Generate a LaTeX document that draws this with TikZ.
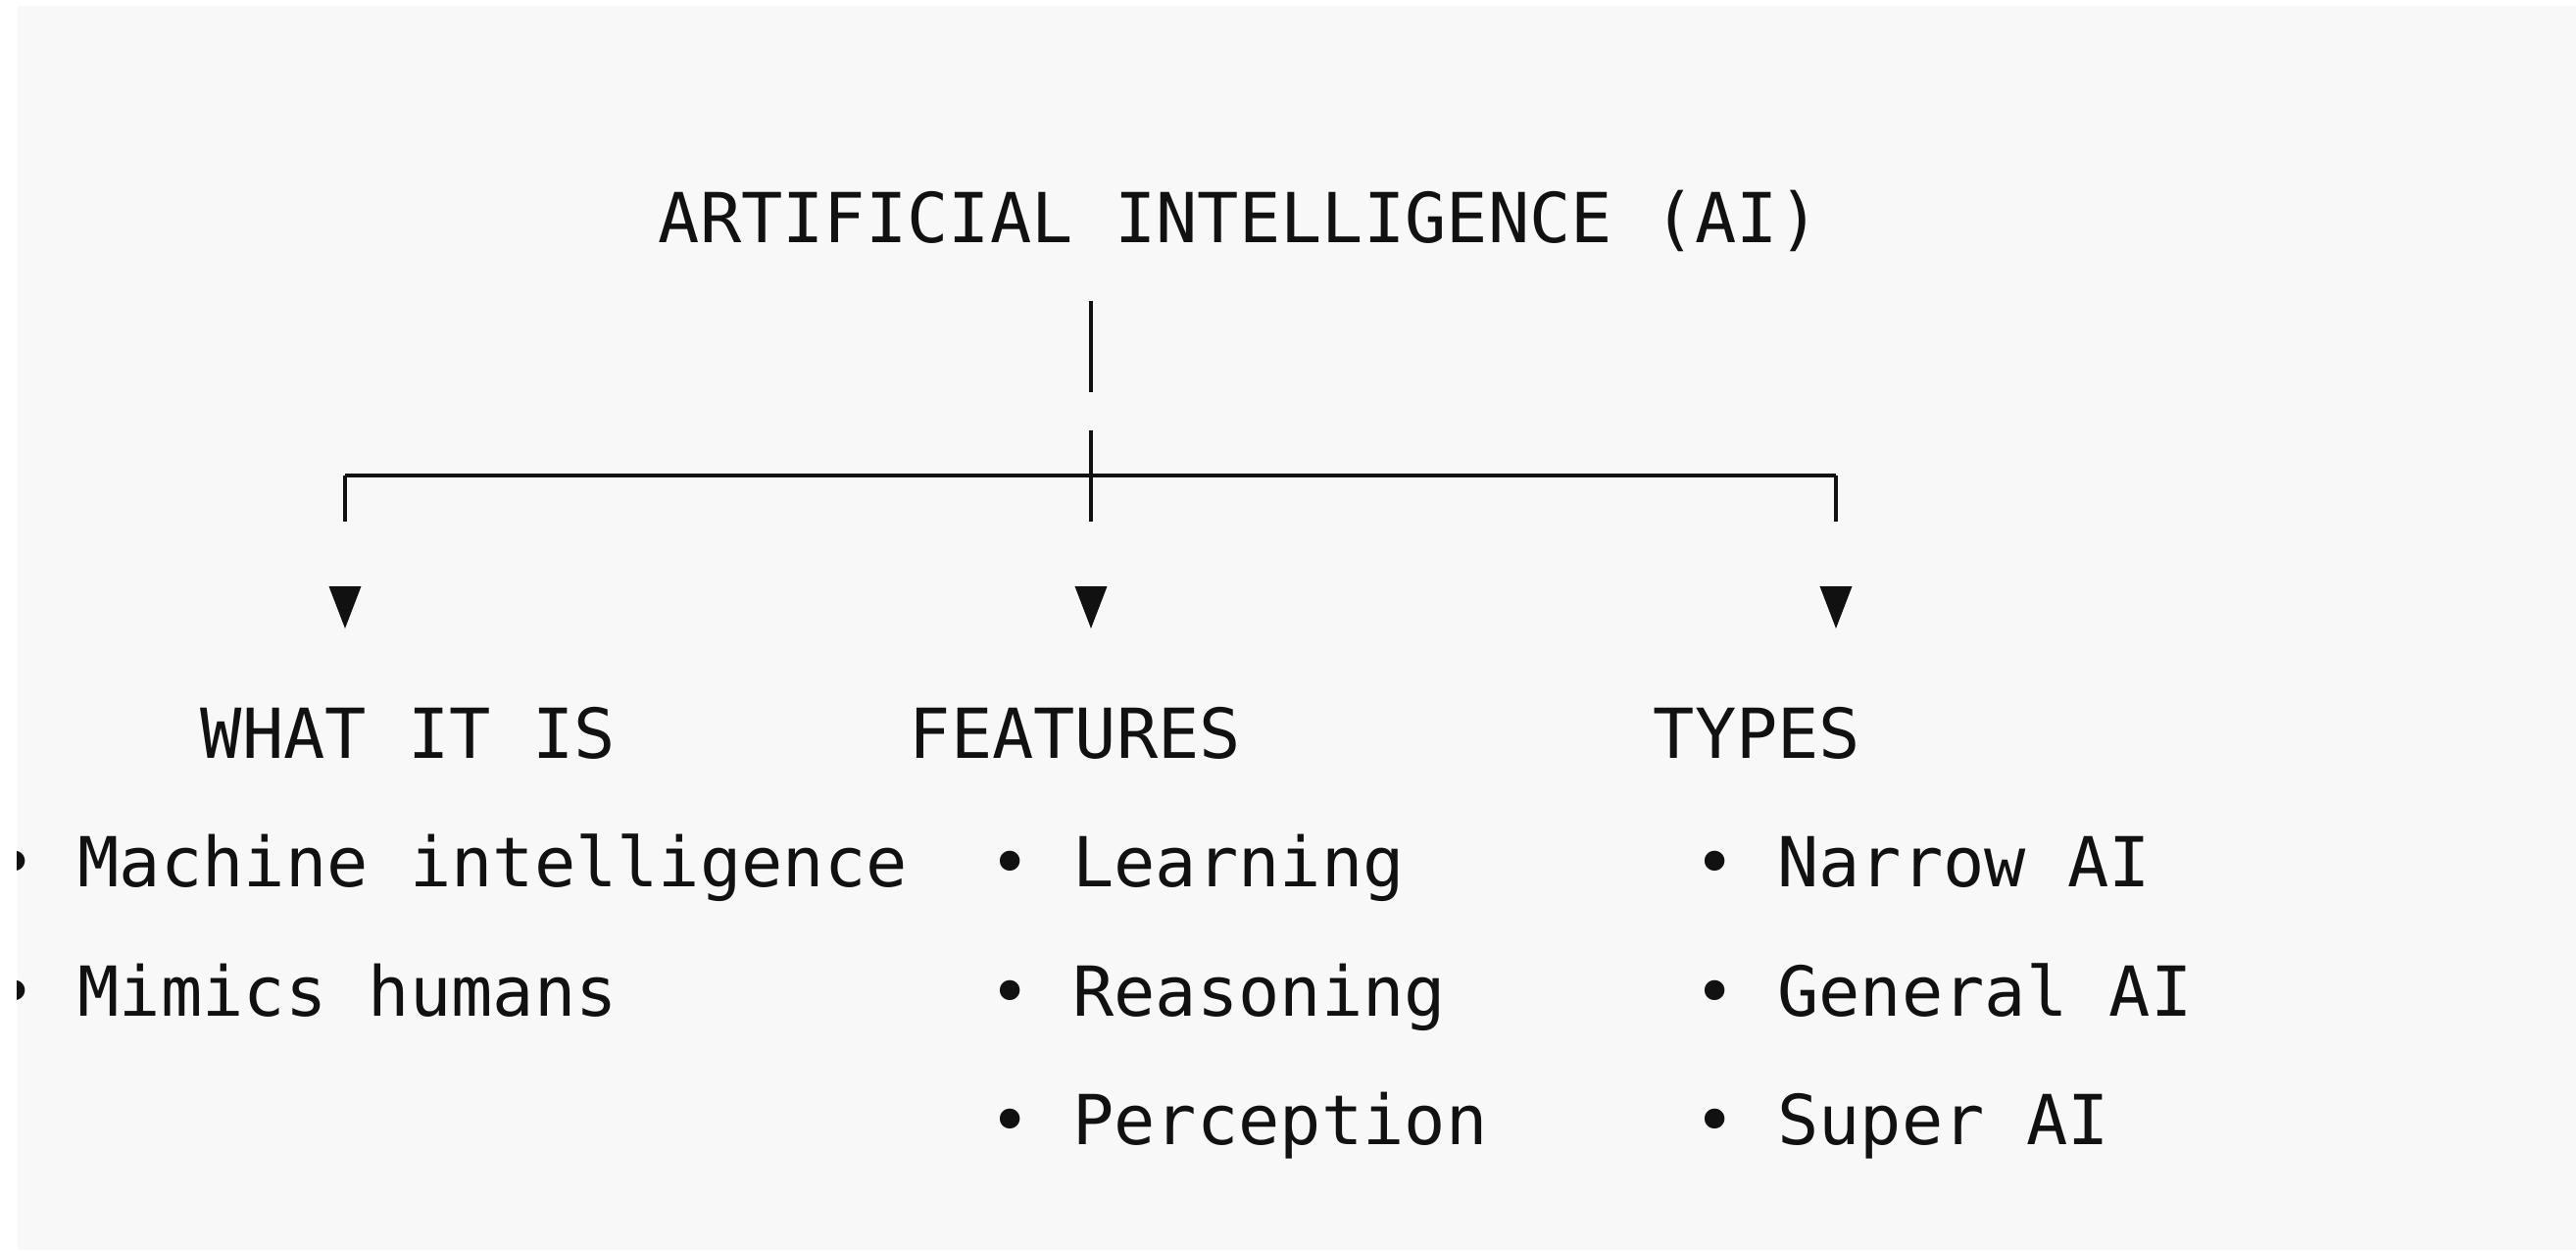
\documentclass[tikz,border=0pt]{standalone}
\usepackage{fontspec}
\setmonofont{DejaVu Sans Mono}
\definecolor{fondo}{HTML}{F8F8F8}
\definecolor{tinta}{HTML}{111111}

\begin{document}
\begin{tikzpicture}
\tikzstyle{txt}=[anchor=base west, inner sep=0pt, text=tinta, font=\ttfamily\fontsize{20}{24}\selectfont]
\tikzstyle{stem}=[draw=tinta, line width=1.1pt]
\tikzstyle{bar}=[draw=tinta, line width=1.4pt]
\tikzstyle{tipfill}=[fill=tinta]
\newcommand{\downtip}[1]{\fill[tipfill] (#1) ++(-0.165,0) -- ++(0.33,0) -- ++(-0.165,-0.43) -- cycle;}

%%%%%%%%%%%%%%%%%%%%%%%%%%%%%%
%%%%% FONDO
\useasboundingbox (0,0) rectangle (26.28,-12.75);
\fill[white] (0,0) rectangle (26.28,-12.75);
\fill[fondo] (0.18,-0.06) rectangle (26.28,-12.75);
\begin{scope}
\clip (0.18,-0.06) rectangle (26.28,-12.75);

%%%%% TITULO
\coordinate (title) at (6.71,-2.47);

%%%%% TRONCO
\coordinate (s_1) at (11.13,-3.07);
\coordinate (s_2) at (11.13,-4.00);
\coordinate (s_3) at (11.13,-4.39);
\coordinate (s_4) at (11.13,-5.32);

%%%%% RAMAS
\coordinate (b_1) at (3.52,-4.85);
\coordinate (b_2) at (11.13,-4.85);
\coordinate (b_3) at (18.73,-4.85);
\coordinate (e_1) at (3.52,-5.32);
\coordinate (e_3) at (18.73,-5.32);

%%%%% PUNTAS
\coordinate (t_1) at (3.52,-5.98);
\coordinate (t_2) at (11.13,-5.98);
\coordinate (t_3) at (18.73,-5.98);

%%%%% COLUMNAS
\coordinate (whatis) at (2.04,-7.73);
\coordinate (features) at (9.27,-7.73);
\coordinate (types) at (16.86,-7.73);

%%%%%%%%%%%%%%%
%%%%% NODOS
\node[txt] (title) at (title) {ARTIFICIAL INTELLIGENCE (AI)};

\node[txt] (whatis) at (whatis) {WHAT IT IS};
\node[txt] (features) at (features) {FEATURES};
\node[txt] (types) at (types) {TYPES};

\node[txt] (whatis_1) at (-0.058,-9.04) {• Machine intelligence};
\node[txt] (whatis_2) at (-0.058,-10.36) {• Mimics humans};

\node[txt] (features_1) at (10.09,-9.04) {• Learning};
\node[txt] (features_2) at (10.09,-10.36) {• Reasoning};
\node[txt] (features_3) at (10.09,-11.67) {• Perception};

\node[txt] (types_1) at (17.28,-9.04) {• Narrow AI};
\node[txt] (types_2) at (17.28,-10.36) {• General AI};
\node[txt] (types_3) at (17.28,-11.67) {• Super AI};

%%%%%%%%%%%%%%%
%%%%% CONEXIONES
\draw[stem] (s_1) -- (s_2);
\draw[stem] (s_3) -- (s_4);

\draw[bar] (b_1) -- (b_3);
\draw[stem] (b_1) -- (e_1);
\draw[stem] (b_3) -- (e_3);

\downtip{t_1}
\downtip{t_2}
\downtip{t_3}

\end{scope}
\end{tikzpicture}
\end{document}
